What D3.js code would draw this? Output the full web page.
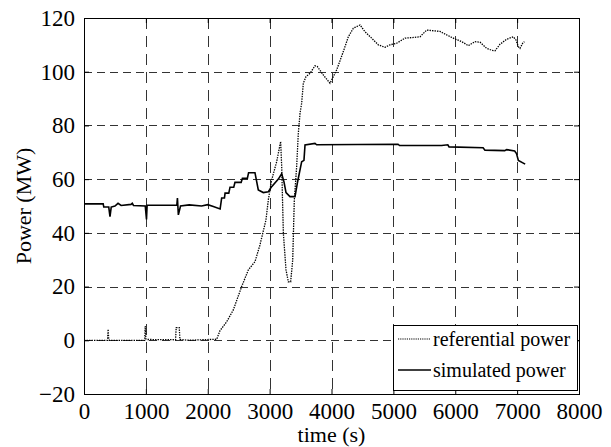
<!DOCTYPE html>
<html>
<head>
<meta charset="utf-8">
<script src="https://cdn.jsdelivr.net/npm/d3@7"></script>
<style>
  body { margin: 0; background: #fff; }
  text { font-family: "Liberation Serif", "Times New Roman", serif; fill: #000; }
</style>
</head>
<body>
<div id="chart"></div>
<script>
// data (time in s, power in MW)
const simTime = [0, 310, 320, 400, 420, 440, 500, 550, 600, 760, 780, 800, 990, 1010, 1020, 1500, 1510, 1525, 1560, 1700, 1900, 2000, 2090, 2200, 2225, 2270, 2280, 2340, 2360, 2420, 2440, 2540, 2560, 2640, 2660, 2763, 2817, 2898, 2979, 3033, 3141, 3195, 3232, 3265, 3329, 3410, 3448, 3480, 3518, 3555, 3572, 3733, 3760, 5075, 5100, 5780, 5880, 5900, 6450, 6480, 6800, 6830, 6960, 6990, 7020, 7130];
const simPower = [50.8, 50.8, 49.6, 49.6, 46, 49.6, 50, 51, 50.2, 50.6, 51, 50.2, 50, 45, 50.3, 50.3, 53, 46.7, 50, 50.4, 50, 50.5, 49.8, 48.9, 53, 53, 54.8, 54.8, 57, 57, 58.8, 58.8, 60.3, 60.3, 62.4, 62.4, 56, 55, 55.3, 57.2, 60, 62, 59, 55, 53.5, 53.5, 58.5, 62.2, 66.5, 67, 72.7, 73.3, 72.8, 73, 72.5, 72.5, 72.8, 72, 71.7, 70.8, 70.6, 71, 70.5, 69.5, 67, 65.6];

const refTime = [0, 380, 390, 400, 410, 980, 990, 1000, 1020, 1480, 1490, 1540, 1550, 1700, 2145, 2198, 2306, 2413, 2548, 2656, 2764, 2844, 2882, 2941, 2979, 3033, 3114, 3178, 3195, 3222, 3265, 3302, 3340, 3373, 3399, 3437, 3464, 3491, 3518, 3545, 3588, 3653, 3733, 3771, 3867, 3976, 4084, 4191, 4272, 4353, 4461, 4541, 4649, 4757, 4865, 4945, 5053, 5188, 5296, 5430, 5538, 5673, 5754, 5861, 5996, 6104, 6211, 6319, 6400, 6508, 6589, 6643, 6723, 6831, 6938, 6982, 7020, 7046, 7090, 7117];
const refPower = [0, 0, 4.1, 0.3, 0, 0, 5.3, 0.5, 0.3, 0.2, 4.7, 4.7, 0.3, 0, 0.4, 3.6, 6.9, 11.3, 20, 26.2, 29.3, 35.5, 39.2, 44.8, 52.3, 59.7, 66.5, 74, 64.6, 39.8, 26.2, 21.8, 21.8, 29.9, 52.3, 64.6, 77, 84.5, 88.3, 95.7, 98.2, 99.4, 102.2, 101.9, 98.8, 95.7, 100.7, 107.5, 113, 116.2, 117.4, 114.9, 112.5, 110, 109.1, 110, 110.6, 112.5, 112.7, 113, 115.5, 115.2, 115, 113.7, 112.2, 111.2, 109.7, 111.2, 111, 108.7, 108, 107.8, 110.2, 112.1, 113, 111.8, 109.3, 108.7, 110.6, 111.2];

const xTicks = [0, 1000, 2000, 3000, 4000, 5000, 6000, 7000, 8000];
const yTicks = [-20, 0, 20, 40, 60, 80, 100, 120];
const legendLabels = ["referential power", "simulated power"];

// layout
const w = 611;
const h = 447;
const pLeft = 84, pTop = 18, pRight = 579, pBottom = 394;

const svg = d3.select("#chart")
              .append("svg")
              .attr("width", w)
              .attr("height", h);

const xScale = d3.scaleLinear().domain([0, 8000]).range([pLeft, pRight]);
const yScale = d3.scaleLinear().domain([-20, 120]).range([pBottom, pTop]);

// dashed grid
svg.append("g")
   .selectAll("line")
   .data(xTicks.slice(1, -1))
   .enter()
   .append("line")
   .attr("x1", d => Math.round(xScale(d)) + 0.5)
   .attr("x2", d => Math.round(xScale(d)) + 0.5)
   .attr("y1", pTop)
   .attr("y2", pBottom)
   .attr("stroke", "#333")
   .attr("stroke-dasharray", "11,7");
svg.append("g")
   .selectAll("line")
   .data(yTicks.slice(1, -1))
   .enter()
   .append("line")
   .attr("y1", d => Math.round(yScale(d)) + 0.5)
   .attr("y2", d => Math.round(yScale(d)) + 0.5)
   .attr("x1", pLeft)
   .attr("x2", pRight)
   .attr("stroke", "#333")
   .attr("stroke-dasharray", "8,5");

// axes with inward ticks on all sides
const fs = "23px";
const fmt = d3.format("d");
const xAxis = svg.append("g")
   .attr("transform", "translate(0," + pBottom + ")")
   .call(d3.axisBottom(xScale).tickValues(xTicks).tickFormat(fmt).tickSizeInner(-5).tickSizeOuter(0).tickPadding(9));
const yAxis = svg.append("g")
   .attr("transform", "translate(" + pLeft + ",0)")
   .call(d3.axisLeft(yScale).tickValues(yTicks).tickFormat(fmt).tickSizeInner(-5).tickSizeOuter(0).tickPadding(9));
svg.append("g")
   .attr("transform", "translate(0," + pTop + ")")
   .call(d3.axisTop(xScale).tickValues(xTicks).tickSizeInner(-5).tickSizeOuter(0).tickFormat(""));
svg.append("g")
   .attr("transform", "translate(" + pRight + ",0)")
   .call(d3.axisRight(yScale).tickValues(yTicks).tickSizeInner(-5).tickSizeOuter(0).tickFormat(""));
svg.selectAll(".domain").remove();
svg.selectAll(".tick line").attr("stroke", "#000");
svg.selectAll("g").attr("font-family", null);
xAxis.selectAll("text").style("font-size", fs);
yAxis.selectAll("text").style("font-size", fs);

// frame
svg.append("rect")
   .attr("x", pLeft + 0.5)
   .attr("y", pTop + 0.5)
   .attr("width", pRight - pLeft)
   .attr("height", pBottom - pTop)
   .attr("fill", "none")
   .attr("stroke", "#000");

// series
const refData = refTime.map((t, i) => [t, refPower[i]]);
const simData = simTime.map((t, i) => [t, simPower[i]]);
const line = d3.line().x(d => xScale(d[0])).y(d => yScale(d[1]));

svg.append("path")
   .attr("d", line(refData))
   .attr("fill", "none")
   .attr("stroke", "#000")
   .attr("stroke-width", 1.3)
   .attr("stroke-dasharray", "1.4,1.1");
svg.append("path")
   .attr("d", line(simData))
   .attr("fill", "none")
   .attr("stroke", "#000")
   .attr("stroke-width", 1.6);

// axis labels
svg.append("text")
   .text("time (s)")
   .attr("x", (pLeft + pRight) / 2)
   .attr("y", 442)
   .attr("text-anchor", "middle")
   .style("font-size", "22px");
svg.append("text")
   .text("Power (MW)")
   .attr("transform", "rotate(-90)")
   .attr("x", -(pTop + pBottom) / 2)
   .attr("y", 31)
   .attr("text-anchor", "middle")
   .style("font-size", "22px");

// legend
const legend = svg.append("g");
legend.append("rect")
      .attr("x", 393.5)
      .attr("y", 325.5)
      .attr("width", 184)
      .attr("height", 65)
      .attr("fill", "#fff")
      .attr("stroke", "#000");
legendLabels.forEach((lab, i) => {
  const ly = 339 + i * 31;
  legend.append("line")
        .attr("x1", 398).attr("x2", 431)
        .attr("y1", ly).attr("y2", ly)
        .attr("stroke", "#000")
        .attr("stroke-width", i === 0 ? 1.2 : 1.6)
        .attr("stroke-dasharray", i === 0 ? "1.2,1" : null);
  legend.append("text")
        .text(lab)
        .attr("x", 433)
        .attr("y", ly + 7)
        .style("font-size", "20px");
});
</script>
</body>
</html>
